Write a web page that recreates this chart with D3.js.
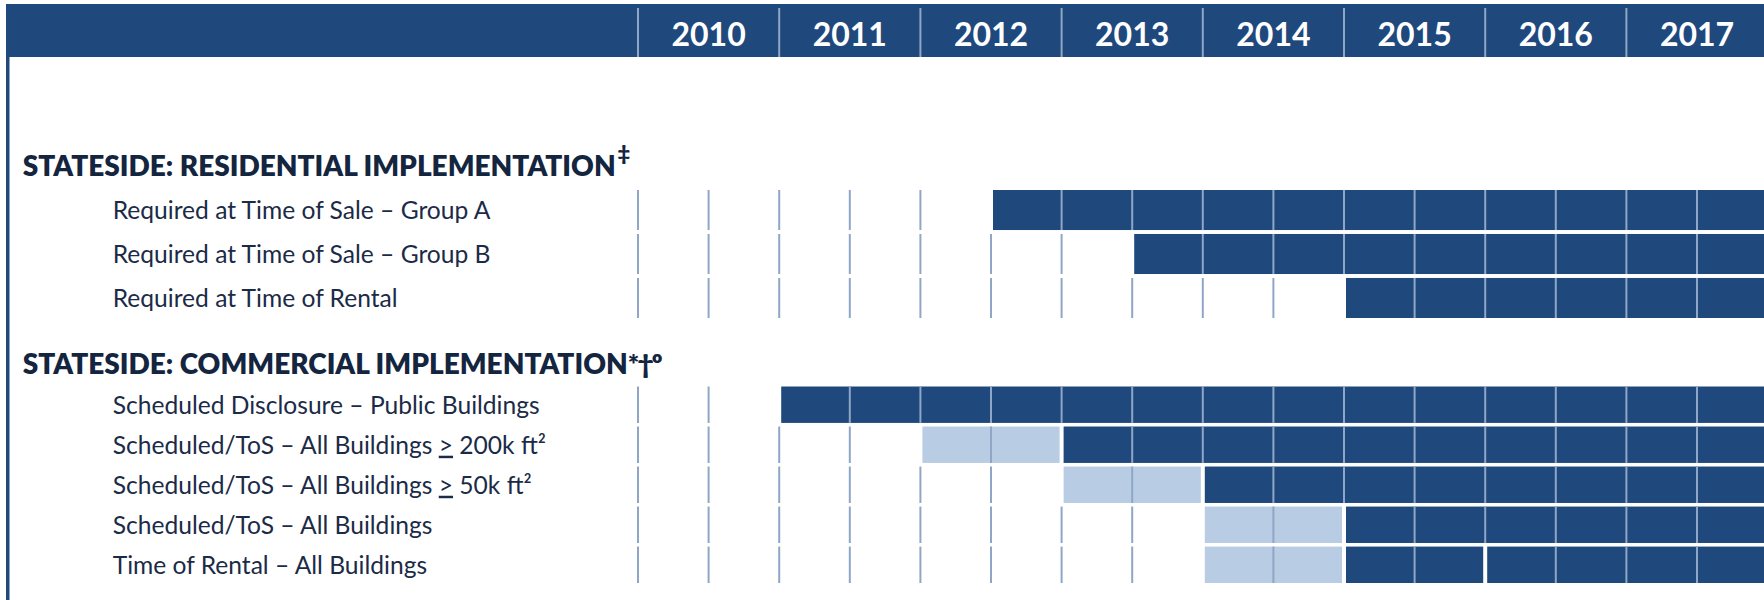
<!DOCTYPE html>
<html>
<head>
<meta charset="utf-8">
<script src="https://cdn.jsdelivr.net/npm/d3@7"></script>
<style>
  html, body { margin: 0; padding: 0; background: #ffffff; }
  svg { display: block; }
</style>
</head>
<body>
<svg id="chart" width="1764" height="600"></svg>
<script>
// ---------- data ----------
const years = [2010, 2011, 2012, 2013, 2014, 2015, 2016, 2017];
const resTitle = "STATESIDE: RESIDENTIAL IMPLEMENTATION";
const resTitleMark = "‡";
const comTitle = "STATESIDE: COMMERCIAL IMPLEMENTATION";
const comTitleMark = "*†º";
const resLabels = [
  "Required at Time of Sale – Group A",
  "Required at Time of Sale – Group B",
  "Required at Time of Rental"
];
const comLabels = [
  "Scheduled Disclosure – Public Buildings",
  "Scheduled/ToS – All Buildings ≥ 200k ft²",
  "Scheduled/ToS – All Buildings ≥ 50k ft²",
  "Scheduled/ToS – All Buildings",
  "Time of Rental – All Buildings"
];
// segments: [start year, end year, phase]  ("phase" = phase-in, "req" = required)
const resSegments = [
  [[2012.5, 2018, "req"]],
  [[2013.5, 2018, "req"]],
  [[2015, 2018, "req"]]
];
const comSegments = [
  [[2011, 2018, "req"]],
  [[2012, 2013, "phase"], [2013, 2018, "req"]],
  [[2013, 2014, "phase"], [2014, 2018, "req"]],
  [[2014, 2015, "phase"], [2015, 2018, "req"]],
  [[2014, 2015, "phase"], [2015, 2016, "req"], [2016, 2018, "req"]]
];

// ---------- styles ----------
const DARK = "#1F497D";
const LIGHT = "#B8CCE4";
const GRID = "#8FA6C6";
const TITLE_COLOR = "#14253F";
const LABEL_COLOR = "#1B2B47";
const FONT = "Lato, 'Open Sans', sans-serif";

const svg = d3.select("#chart");
const W = 1764;

const x = d3.scaleLinear().domain([2010, 2018]).range([638, 1767.6]);
const halfYears = d3.range(2010, 2018, 0.5);

// ---------- header ----------
svg.append("rect").attr("x", 6).attr("y", 4).attr("width", W - 6).attr("height", 53).attr("fill", DARK);
svg.append("rect").attr("x", 6).attr("y", 56).attr("width", 3.5).attr("height", 600 - 56).attr("fill", DARK);

svg.append("g").selectAll("line").data(years).join("line")
  .attr("x1", d => x(d)).attr("x2", d => x(d))
  .attr("y1", 8).attr("y2", 57)
  .attr("stroke", GRID).attr("stroke-width", 2);

svg.append("g").selectAll("text").data(years).join("text")
  .attr("x", d => x(d + 0.5)).attr("y", 46)
  .attr("text-anchor", "middle")
  .attr("fill", "#ffffff")
  .attr("font-family", FONT).attr("font-weight", 700).attr("font-size", 32)
  .text(d => d);

// ---------- sections ----------
function section(title, mark, superMark, labels, segments, yTop, yBottom, titleBaseline) {
  const y = d3.scaleBand().domain(labels).range([yTop, yBottom]).paddingInner(0.09).paddingOuter(0);

  const t = svg.append("text")
    .attr("x", 22.7).attr("y", titleBaseline)
    .attr("fill", TITLE_COLOR)
    .attr("font-family", FONT).attr("font-weight", 800).attr("font-size", 28);
  t.append("tspan").text(title);
  if (superMark) {
    t.append("tspan").attr("dy", -15).attr("dx", 2).attr("font-size", 21).text(mark);
  } else {
    t.append("tspan").attr("font-size", 27).attr("letter-spacing", -1.5).text(mark);
  }

  labels.forEach((lab, i) => {
    const cy = y(lab) + y.bandwidth() / 2;
    const segs = segments[i];
    const first = d3.min(segs, s => s[0]);
    const row = svg.append("g");

    // grid lines in the empty part of the row
    row.selectAll("line.pre").data(halfYears.filter(b => b < first)).join("line")
      .attr("x1", d => x(d)).attr("x2", d => x(d))
      .attr("y1", y(lab)).attr("y2", y(lab) + y.bandwidth())
      .attr("stroke", GRID).attr("stroke-width", 2);

    // bars
    row.selectAll("rect").data(segs).join("rect")
      .attr("x", d => x(d[0]) + 2)
      .attr("width", d => x(d[1]) - x(d[0]) - 4)
      .attr("y", y(lab)).attr("height", y.bandwidth())
      .attr("fill", d => d[2] === "req" ? DARK : LIGHT);

    // grid lines inside bars
    const inside = halfYears.filter(b => segs.some(s => b > s[0] && b < s[1]));
    row.selectAll("line.in").data(inside).join("line")
      .attr("x1", d => x(d)).attr("x2", d => x(d))
      .attr("y1", y(lab)).attr("y2", y(lab) + y.bandwidth())
      .attr("stroke", GRID).attr("stroke-width", 2);

    // label
    const lt = row.append("text")
      .attr("x", 112.7).attr("y", cy + 9)
      .attr("fill", LABEL_COLOR)
      .attr("font-family", FONT).attr("font-size", 24.6);
    const parts = lab.split("≥");
    if (parts.length === 2) {
      lt.append("tspan").text(parts[0]);
      lt.append("tspan").style("text-decoration", "underline").text(">");
      lt.append("tspan").text(parts[1]);
    } else {
      lt.text(lab);
    }
  });
}

section(resTitle, resTitleMark, true, resLabels, resSegments, 190, 318, 176);
section(comTitle, comTitleMark, false, comLabels, comSegments, 386.5, 583, 374);
</script>
</body>
</html>
